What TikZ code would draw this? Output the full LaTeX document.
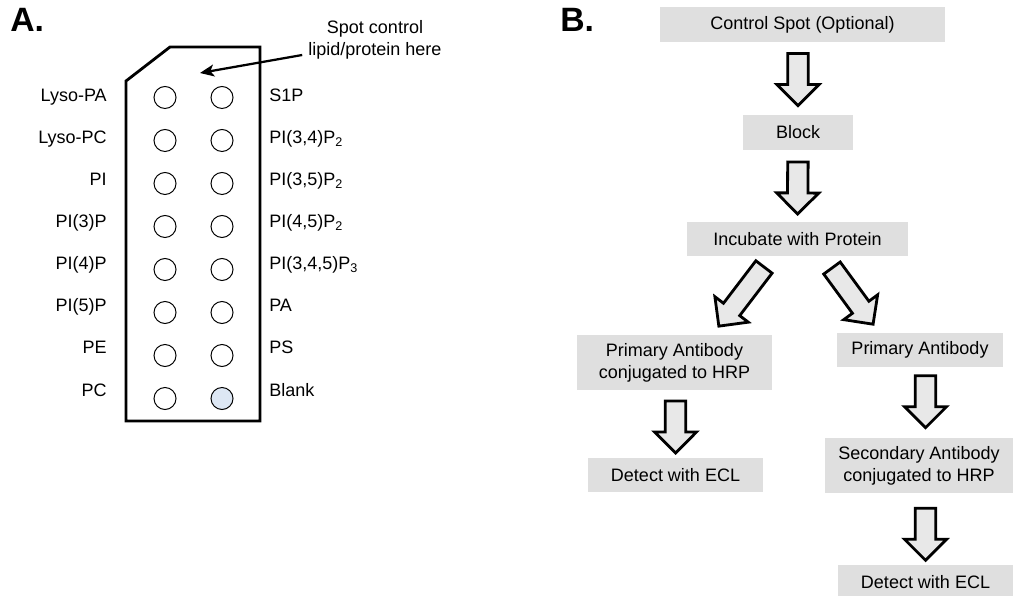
\documentclass[tikz,border=0pt]{standalone}
\usepackage{fontspec}
\setmainfont{Liberation Sans}
\usepackage{tikz}
\usetikzlibrary{arrows.meta, shapes.arrows, calc, positioning}

\definecolor{boxgray}{RGB}{223,223,223}
\definecolor{arrowgray}{RGB}{232,232,232}
\definecolor{blankblue}{RGB}{221,231,244}

\tikzset{
  panel/.style={anchor=north west, inner sep=0pt, font=\fontsize{24}{26}\selectfont\bfseries},
  strip/.style={draw, line width=2pt, line join=miter},
  spot/.style={circle, draw, line width=0.7pt, minimum size=0.55cm, inner sep=0pt},
  lipidleft/.style={anchor=base east, inner sep=0pt},
  lipidright/.style={anchor=base west, inner sep=0pt},
  pointer/.style={line width=1.6pt, -{Stealth[length=10pt, width=8.5pt, inset=2.5pt]}},
  stepbox/.style={fill=boxgray, align=center, inner sep=0pt, minimum height=0.86cm},
  tallbox/.style={stepbox, minimum height=1.375cm},
  fatarrow/.style={single arrow, draw, fill=arrowgray, line width=2pt, inner xsep=0pt,
    inner ysep=0.22cm, minimum width=1cm, single arrow head extend=0.27cm,
    single arrow head indent=0pt, minimum height=1.3cm, sloped, allow upside down}
}

\begin{document}
\begin{tikzpicture}[x=0.025cm, y=-0.025cm, font=\fontsize{12.8}{15.6}\selectfont]
  \useasboundingbox (0,0) rectangle (1016,596);
  %
  % A: the lipid strip
  \node[panel] (pa) at (10,8) {A.};
  \draw[strip] (126,421) -- (126,81) -- (170,47) -- (260,47) -- (260,421) -- cycle;
  \foreach \lname/\rname/\tint [count=\row from 0] in {Lyso-PA/S1P/white,
      Lyso-PC/{PI(3,4)P\textsubscript{2}}/white, PI/{PI(3,5)P\textsubscript{2}}/white,
      PI(3)P/{PI(4,5)P\textsubscript{2}}/white, PI(4)P/{PI(3,4,5)P\textsubscript{3}}/white,
      PI(5)P/PA/white, PE/PS/white, PC/Blank/blankblue}{
    \pgfmathsetmacro{\cy}{97.5+43*\row}
    \pgfmathsetmacro{\ty}{101.3+42.1*\row}
    \node[spot] (l\row) at (165,\cy) {};
    \node[spot, fill=\tint] (r\row) at (222,\cy) {};
    \node[lipidleft] (ln\row) at (107,\ty) {\lname};
    \node[lipidright] (rn\row) at (269,\ty) {\rname};
  }
  \node[align=center, inner sep=0pt] (note) at (375,40) {Spot control\\lipid/protein here};
  \coordinate (spotmark) at (200,73);
  \draw[pointer] ($(note.west)+(-6,15)$) -- (spotmark);
  %
  % B: the steps
  \node[panel] (pb) at (560,8) {B.};
  \node[stepbox, minimum width=7.125cm] (ctrl) at (802.5,24.5) {Control Spot (Optional)};
  \node[stepbox, minimum width=2.75cm] (block) at (798,132.5) {Block};
  \node[stepbox, minimum width=5.525cm] (incub) at (797.5,239) {Incubate with Protein};
  \node[tallbox, minimum width=4.875cm] (hrpab) at (674.5,362.5) {Primary Antibody\\conjugated to HRP};
  \node[stepbox, minimum width=4.15cm] (priab) at (920,350) {Primary Antibody};
  \node[stepbox, minimum width=4.375cm] (eclA) at (675.5,475) {Detect with ECL};
  \node[tallbox, minimum width=4.7cm] (secab) at (919,465.5) {Secondary Antibody\\conjugated to HRP};
  \node[stepbox, minimum width=4.375cm] (eclB) at (925.5,582.5) {Detect with ECL};
  %
  \path (ctrl.south -| block.north) -- node[fatarrow, pos=0.445] {} (block.north);
  \path (block.south) -- node[fatarrow, pos=0.46] {} (incub.north);
  \coordinate (splitL) at (767,263);
  \coordinate (tipL) at (722,322);
  \coordinate (splitR) at (829,264);
  \coordinate (tipR) at (870,320);
  \path (splitL) -- node[fatarrow, minimum height=1.86cm] {} (tipL);
  \path (splitR) -- node[fatarrow, minimum height=1.74cm] {} (tipR);
  \path (hrpab.south -| eclA.north) -- node[fatarrow, pos=0.47] {} (eclA.north);
  \path (priab.south -| eclB.north) -- node[fatarrow, pos=0.415] {} (secab.north -| eclB.north);
  \path (secab.south -| eclB.north) -- node[fatarrow] {} (eclB.north);
\end{tikzpicture}
\end{document}
